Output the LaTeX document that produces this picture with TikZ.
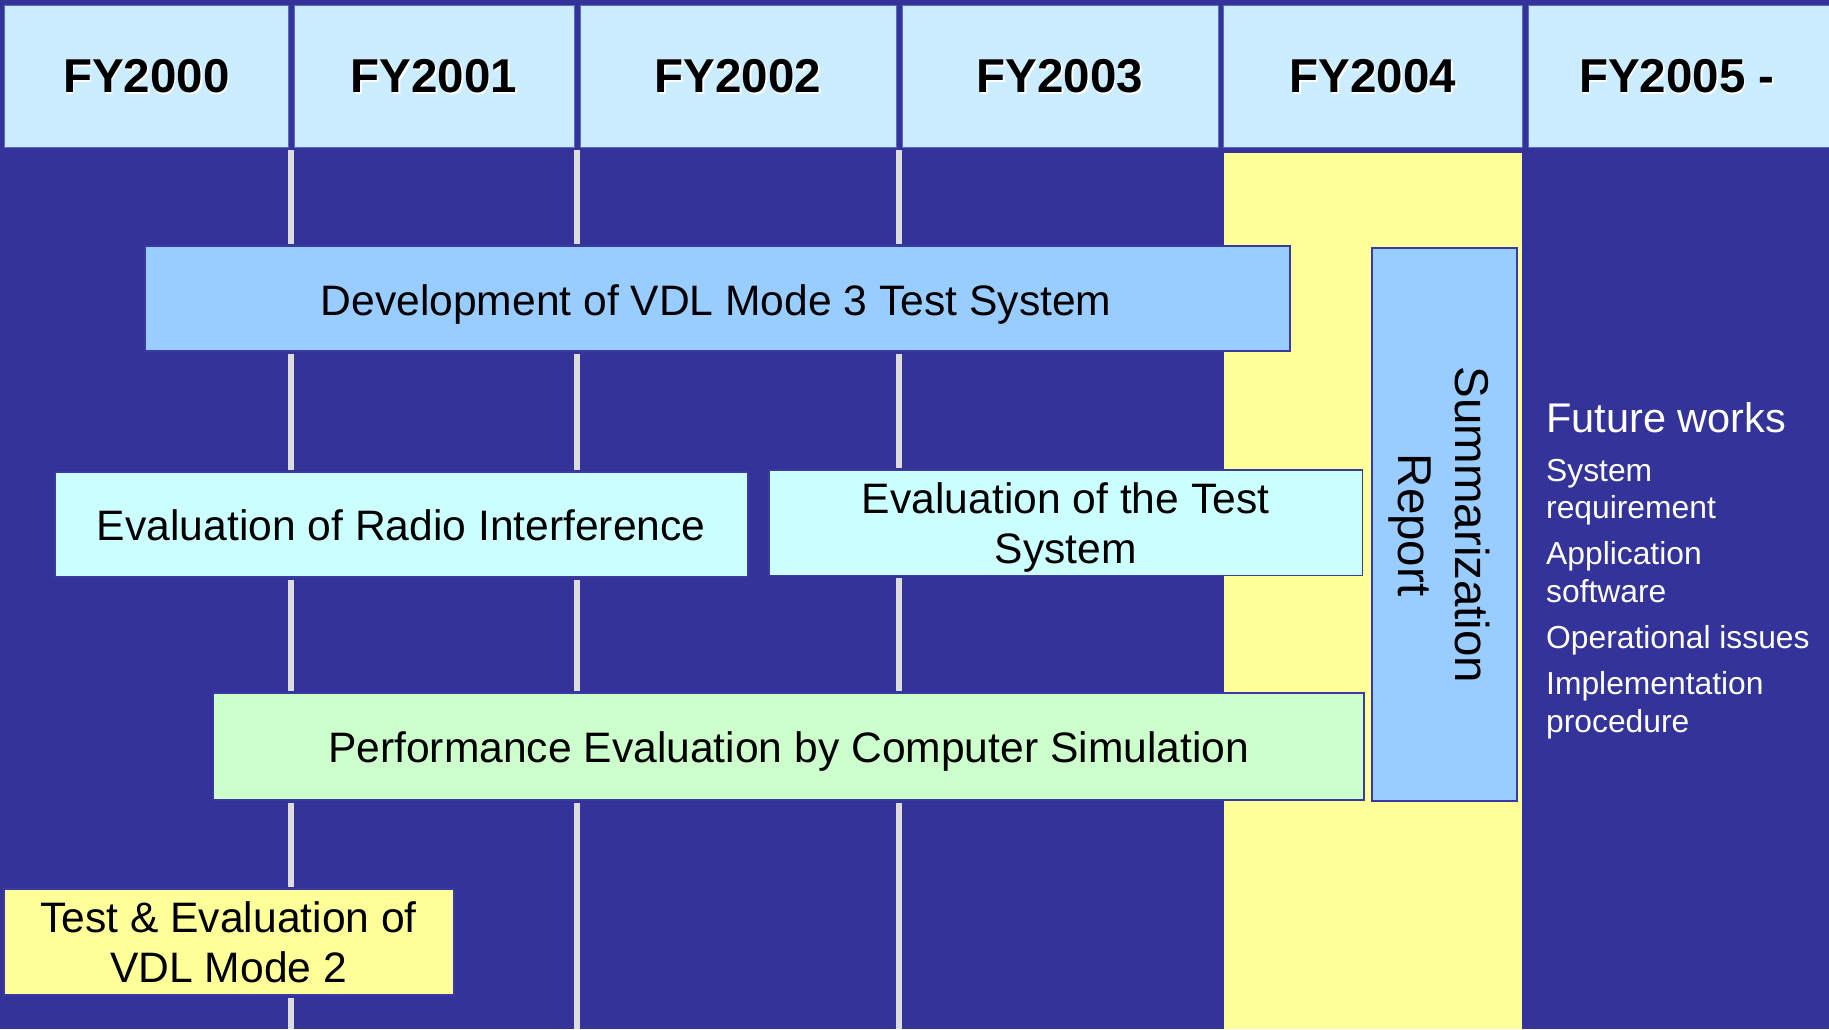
\documentclass[tikz,border=0pt]{standalone}
\usepackage{fontspec}
\setmainfont{Liberation Sans}
\definecolor{bg}{HTML}{333399}
\definecolor{hdr}{HTML}{CCECFF}
\definecolor{hdrline}{HTML}{5A6BC0}
\definecolor{gridc}{HTML}{DDDDDD}
\definecolor{yel}{HTML}{FFFF99}
\definecolor{blu}{HTML}{99CCFF}
\definecolor{cyn}{HTML}{CCFFFF}
\definecolor{grn}{HTML}{CCFFCC}
\definecolor{bord}{HTML}{3A3AA0}
\tikzset{
  hdrcell/.style={draw=hdrline, line width=1pt, fill=hdr, inner sep=0pt, outer sep=0pt, minimum height=142pt},
  hdrtxt/.style={anchor=base, inner sep=0pt, font=\fontsize{47.5}{57}\selectfont\bfseries},
  hdrshadow/.style={hdrtxt, text=white},
  taskbox/.style={draw=bord, line width=1.5pt, inner sep=0pt, outer sep=0pt},
  boxtxt/.style={anchor=base, inner sep=0pt, font=\fontsize{42.6}{51}\selectfont},
  gridline/.style={draw=gridc, line width=6pt},
  fw/.style={anchor=base west, inner sep=0pt, text=white, font=\fontsize{31.8}{38}\selectfont},
}
\begin{document}
\begin{tikzpicture}[x=1pt,y=-1pt]
\useasboundingbox (0,0) rectangle (1829,1029);
\fill[bg] (0,0) rectangle (1829,1029);
\fill[yel] (1223.5,153) rectangle (1522,1029);

% header cells
\node[hdrcell, minimum width=283.3pt] (c0) at (146.35,76) {};
\node[hdrcell, minimum width=280pt] (c1) at (434,76) {};
\node[hdrcell, minimum width=316pt] (c2) at (738,76) {};
\node[hdrcell, minimum width=316pt] (c3) at (1060,76) {};
\node[hdrcell, minimum width=298.5pt] (c4) at (1372.75,76) {};
\node[hdrcell, minimum width=303pt] (c5) at (1679.5,76) {};

\node[hdrshadow] (s0) at (147.85,94.2) {FY2000};
\node[hdrtxt] (t0) at (146.35,92.7) {FY2000};
\node[hdrshadow] (s1) at (435.5,94.2) {FY2001};
\node[hdrtxt] (t1) at (434,92.7) {FY2001};
\node[hdrshadow] (s2) at (739.5,94.2) {FY2002};
\node[hdrtxt] (t2) at (738,92.7) {FY2002};
\node[hdrshadow] (s3) at (1061.5,94.2) {FY2003};
\node[hdrtxt] (t3) at (1060,92.7) {FY2003};
\node[hdrshadow] (s4) at (1374.25,94.2) {FY2004};
\node[hdrtxt] (t4) at (1372.75,92.7) {FY2004};
\node[hdrshadow] (s5) at (1678.3,94.2) {FY2005 -};
\node[hdrtxt] (t5) at (1676.8,92.7) {FY2005 -};

% task boxes
\node[taskbox, fill=blu, minimum width=1145pt, minimum height=105pt] (dev) at (717.5,298.5) {};
\node[boxtxt] (devt) at (716,315) {Development of VDL Mode 3 Test System};

\node[taskbox, fill=cyn, minimum width=693pt, minimum height=105pt] (radio) at (401.5,524.5) {};
\node[boxtxt] (radiot) at (401.3,540) {Evaluation of Radio Interference};

\node[taskbox, fill=cyn, minimum width=593.5pt, minimum height=105.5pt] (evalt) at (1065.75,522.75) {};
\node[boxtxt] (evalta) at (1065.6,513.3) {Evaluation of the Test};
\node[boxtxt] (evaltb) at (1065.6,563.5) {System};

\node[taskbox, fill=grn, minimum width=1150.5pt, minimum height=107pt] (perf) at (788.75,746.5) {};
\node[boxtxt] (perft) at (788.6,762.3) {Performance Evaluation by Computer Simulation};

\node[taskbox, fill=yel, minimum width=450pt, minimum height=106pt] (vdl) at (229,942) {};
\node[boxtxt] (vdla) at (228.6,932.7) {Test \& Evaluation of};
\node[boxtxt] (vdlb) at (228.6,982.7) {VDL Mode 2};

\node[taskbox, fill=blu, minimum width=145pt, minimum height=553pt] (summ) at (1444.5,524.5) {};
\node[rotate=-90, align=center, inner sep=0pt, font=\fontsize{47.5}{57}\selectfont] (summt) at (1439,525) {Summarization\\Report};

% grid lines
\coordinate (g1) at (291,150);
\coordinate (g1e) at (291,1029);
\coordinate (g2) at (577,150);
\coordinate (g2e) at (577,1029);
\coordinate (g3) at (899,150);
\coordinate (g3e) at (899,1029);

\draw[gridline, shorten >=2.5pt] (g1) -- (g1 |- dev.north);
\draw[gridline, shorten <=2.5pt, shorten >=2.5pt] (g1 |- dev.south) -- (g1 |- radio.north);
\draw[gridline, shorten <=2.5pt, shorten >=2.5pt] (g1 |- radio.south) -- (g1 |- perf.north);
\draw[gridline, shorten <=2.5pt, shorten >=2.5pt] (g1 |- perf.south) -- (g1 |- vdl.north);
\draw[gridline, shorten <=2.5pt] (g1 |- vdl.south) -- (g1e);

\draw[gridline, shorten >=2.5pt] (g2) -- (g2 |- dev.north);
\draw[gridline, shorten <=2.5pt, shorten >=2.5pt] (g2 |- dev.south) -- (g2 |- radio.north);
\draw[gridline, shorten <=2.5pt, shorten >=2.5pt] (g2 |- radio.south) -- (g2 |- perf.north);
\draw[gridline, shorten <=2.5pt] (g2 |- perf.south) -- (g2e);

\draw[gridline, shorten >=2.5pt] (g3) -- (g3 |- dev.north);
\draw[gridline, shorten <=2.5pt, shorten >=2.5pt] (g3 |- dev.south) -- (g3 |- evalt.north);
\draw[gridline, shorten <=2.5pt, shorten >=2.5pt] (g3 |- evalt.south) -- (g3 |- perf.north);
\draw[gridline, shorten <=2.5pt] (g3 |- perf.south) -- (g3e);

% future works
\node[fw, font=\fontsize{41.5}{50}\selectfont] (fwh) at (1546,432.3) {Future works};
\node[fw] (fw1a) at (1546,481) {System};
\node[fw] (fw1b) at (1546,518.5) {requirement};
\node[fw] (fw2a) at (1546,564.5) {Application};
\node[fw] (fw2b) at (1546,602.5) {software};
\node[fw] (fw3) at (1546,648) {Operational issues};
\node[fw] (fw4a) at (1546,694.5) {Implementation};
\node[fw] (fw4b) at (1546,732) {procedure};
\end{tikzpicture}
\end{document}
